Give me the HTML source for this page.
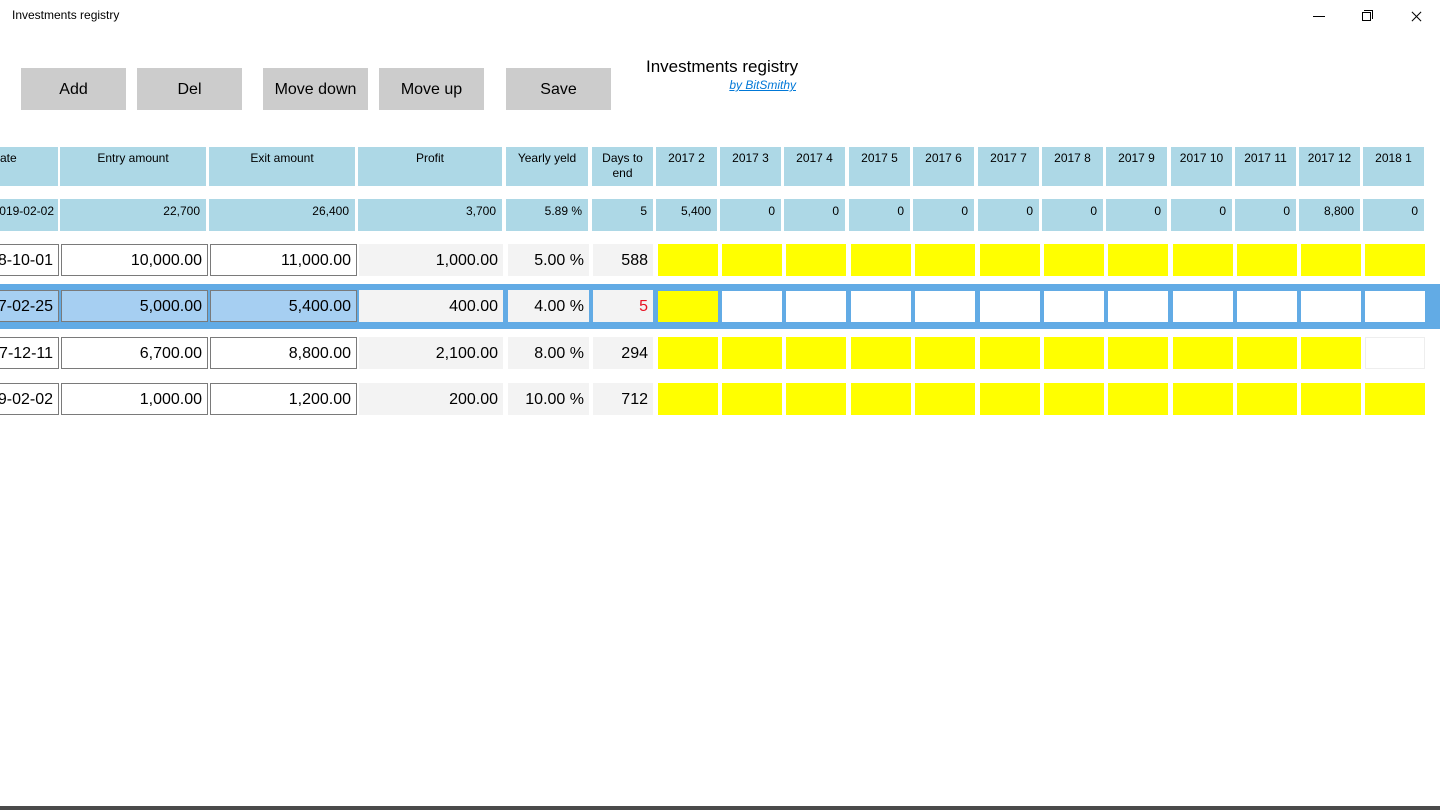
<!DOCTYPE html>
<html><head><meta charset="utf-8"><style>
body{margin:0;width:1440px;height:810px;background:#fff;position:relative;overflow:hidden;font-family:"Segoe UI","Liberation Sans",sans-serif;color:#000}
div{position:absolute;box-sizing:border-box;white-space:nowrap}
.btn{background:#ccc;height:42px;top:68px;width:105px;font-size:16px;text-align:center;line-height:44px}
.h{background:#add8e6;top:147px;height:39px;font-size:12px;text-align:center;padding-top:4px;line-height:15px}
.s{background:#add8e6;top:199px;height:32px;font-size:12px;text-align:right;padding-right:6px;line-height:24px}
.c{height:32px;font-size:16px;text-align:right;padding-right:5px;line-height:31px}
.b{border:1px solid #7a7a7a;background:#fff}
.g{background:#f3f3f3;line-height:33px}
.y{background:#ffff00}
.w{background:#fff}
</style></head><body>
<div style="left:12px;top:8px;font-size:12px">Investments registry</div>
<div style="left:1313px;top:16px;width:12px;border-top:1px solid #000"></div>
<div style="left:1362px;top:12px;width:9px;height:9px;border:1px solid #000"></div>
<div style="left:1364px;top:10px;width:9px;height:9px;border-top:1px solid #000;border-right:1px solid #000"></div>
<div style="left:1410px;top:16px;width:13px;border-top:1px solid #000;transform:rotate(45deg)"></div>
<div style="left:1410px;top:16px;width:13px;border-top:1px solid #000;transform:rotate(-45deg)"></div>

<div class="btn" style="left:21px">Add</div>
<div class="btn" style="left:137px">Del</div>
<div class="btn" style="left:263px">Move down</div>
<div class="btn" style="left:379px">Move up</div>
<div class="btn" style="left:506px">Save</div>
<div style="left:646px;top:57px;font-size:17px">Investments registry</div>
<div style="left:700px;top:78px;width:96px;text-align:right;font-size:12px;font-style:italic;color:#0078d7;text-decoration:underline">by BitSmithy</div>

<div class="h" style="left:0;width:58px;text-align:left">ate</div>
<div class="h" style="left:60px;width:146px">Entry amount</div>
<div class="h" style="left:209px;width:146px">Exit amount</div>
<div class="h" style="left:358px;width:144px">Profit</div>
<div class="h" style="left:506px;width:82px">Yearly yeld</div>
<div class="h" style="left:592px;width:61px">Days to<br>end</div>
<div class="h" style="left:656px;width:61px">2017 2</div>
<div class="h" style="left:720px;width:61px">2017 3</div>
<div class="h" style="left:784px;width:61px">2017 4</div>
<div class="h" style="left:849px;width:61px">2017 5</div>
<div class="h" style="left:913px;width:61px">2017 6</div>
<div class="h" style="left:978px;width:61px">2017 7</div>
<div class="h" style="left:1042px;width:61px">2017 8</div>
<div class="h" style="left:1106px;width:61px">2017 9</div>
<div class="h" style="left:1171px;width:61px">2017 10</div>
<div class="h" style="left:1235px;width:61px">2017 11</div>
<div class="h" style="left:1299px;width:61px">2017 12</div>
<div class="h" style="left:1363px;width:61px">2018 1</div>

<div class="s" style="left:-40px;width:98px;padding-right:4px">2019-02-02</div>
<div class="s" style="left:60px;width:146px">22,700</div>
<div class="s" style="left:209px;width:146px">26,400</div>
<div class="s" style="left:358px;width:144px">3,700</div>
<div class="s" style="left:506px;width:82px">5.89 %</div>
<div class="s" style="left:592px;width:61px">5</div>
<div class="s" style="left:656px;width:61px">5,400</div>
<div class="s" style="left:720px;width:61px">0</div>
<div class="s" style="left:784px;width:61px">0</div>
<div class="s" style="left:849px;width:61px">0</div>
<div class="s" style="left:913px;width:61px">0</div>
<div class="s" style="left:978px;width:61px">0</div>
<div class="s" style="left:1042px;width:61px">0</div>
<div class="s" style="left:1106px;width:61px">0</div>
<div class="s" style="left:1171px;width:61px">0</div>
<div class="s" style="left:1235px;width:61px">0</div>
<div class="s" style="left:1299px;width:61px">8,800</div>
<div class="s" style="left:1363px;width:61px">0</div>

<!-- row 1 -->
<div class="c b" style="top:244px;left:-40px;width:99px">2018-10-01</div>
<div class="c b" style="top:244px;left:61px;width:147px">10,000.00</div>
<div class="c b" style="top:244px;left:210px;width:147px">11,000.00</div>
<div class="c g" style="top:244px;left:359px;width:144px">1,000.00</div>
<div class="c g" style="top:244px;left:508px;width:81px">5.00 %</div>
<div class="c g" style="top:244px;left:593px;width:60px">588</div>
<div class="c y" style="top:244px;left:658px;width:60px"></div><div class="c y" style="top:244px;left:722px;width:60px"></div><div class="c y" style="top:244px;left:786px;width:60px"></div><div class="c y" style="top:244px;left:851px;width:60px"></div><div class="c y" style="top:244px;left:915px;width:60px"></div><div class="c y" style="top:244px;left:980px;width:60px"></div><div class="c y" style="top:244px;left:1044px;width:60px"></div><div class="c y" style="top:244px;left:1108px;width:60px"></div><div class="c y" style="top:244px;left:1173px;width:60px"></div><div class="c y" style="top:244px;left:1237px;width:60px"></div><div class="c y" style="top:244px;left:1301px;width:60px"></div><div class="c y" style="top:244px;left:1365px;width:60px"></div>

<!-- row 2 selected -->
<div style="top:284px;left:0;width:1440px;height:45px;background:#62abe5"></div>
<div class="c b" style="top:290px;left:-40px;width:99px;background:#a6cff2">2017-02-25</div>
<div class="c b" style="top:290px;left:61px;width:147px;background:#a6cff2">5,000.00</div>
<div class="c b" style="top:290px;left:210px;width:147px;background:#a6cff2">5,400.00</div>
<div class="c g" style="top:290px;left:359px;width:144px">400.00</div>
<div class="c g" style="top:290px;left:508px;width:81px">4.00 %</div>
<div class="c g" style="top:290px;left:593px;width:60px;color:#e81123">5</div>
<div class="c y" style="top:291px;left:658px;width:60px;height:31px"></div><div class="c w" style="top:291px;left:722px;width:60px;height:31px"></div><div class="c w" style="top:291px;left:786px;width:60px;height:31px"></div><div class="c w" style="top:291px;left:851px;width:60px;height:31px"></div><div class="c w" style="top:291px;left:915px;width:60px;height:31px"></div><div class="c w" style="top:291px;left:980px;width:60px;height:31px"></div><div class="c w" style="top:291px;left:1044px;width:60px;height:31px"></div><div class="c w" style="top:291px;left:1108px;width:60px;height:31px"></div><div class="c w" style="top:291px;left:1173px;width:60px;height:31px"></div><div class="c w" style="top:291px;left:1237px;width:60px;height:31px"></div><div class="c w" style="top:291px;left:1301px;width:60px;height:31px"></div><div class="c w" style="top:291px;left:1365px;width:60px;height:31px"></div>

<!-- row 3 -->
<div class="c b" style="top:337px;left:-40px;width:99px">2017-12-11</div>
<div class="c b" style="top:337px;left:61px;width:147px">6,700.00</div>
<div class="c b" style="top:337px;left:210px;width:147px">8,800.00</div>
<div class="c g" style="top:337px;left:359px;width:144px">2,100.00</div>
<div class="c g" style="top:337px;left:508px;width:81px">8.00 %</div>
<div class="c g" style="top:337px;left:593px;width:60px">294</div>
<div class="c y" style="top:337px;left:658px;width:60px"></div><div class="c y" style="top:337px;left:722px;width:60px"></div><div class="c y" style="top:337px;left:786px;width:60px"></div><div class="c y" style="top:337px;left:851px;width:60px"></div><div class="c y" style="top:337px;left:915px;width:60px"></div><div class="c y" style="top:337px;left:980px;width:60px"></div><div class="c y" style="top:337px;left:1044px;width:60px"></div><div class="c y" style="top:337px;left:1108px;width:60px"></div><div class="c y" style="top:337px;left:1173px;width:60px"></div><div class="c y" style="top:337px;left:1237px;width:60px"></div><div class="c y" style="top:337px;left:1301px;width:60px"></div><div class="c" style="top:337px;left:1365px;width:60px;border:1px solid #eee"></div>

<!-- row 4 -->
<div class="c b" style="top:383px;left:-40px;width:99px">2019-02-02</div>
<div class="c b" style="top:383px;left:61px;width:147px">1,000.00</div>
<div class="c b" style="top:383px;left:210px;width:147px">1,200.00</div>
<div class="c g" style="top:383px;left:359px;width:144px">200.00</div>
<div class="c g" style="top:383px;left:508px;width:81px">10.00 %</div>
<div class="c g" style="top:383px;left:593px;width:60px">712</div>
<div class="c y" style="top:383px;left:658px;width:60px"></div><div class="c y" style="top:383px;left:722px;width:60px"></div><div class="c y" style="top:383px;left:786px;width:60px"></div><div class="c y" style="top:383px;left:851px;width:60px"></div><div class="c y" style="top:383px;left:915px;width:60px"></div><div class="c y" style="top:383px;left:980px;width:60px"></div><div class="c y" style="top:383px;left:1044px;width:60px"></div><div class="c y" style="top:383px;left:1108px;width:60px"></div><div class="c y" style="top:383px;left:1173px;width:60px"></div><div class="c y" style="top:383px;left:1237px;width:60px"></div><div class="c y" style="top:383px;left:1301px;width:60px"></div><div class="c y" style="top:383px;left:1365px;width:60px"></div>

<div style="top:806px;left:0;width:1440px;height:4px;background:#4a4a4a"></div>
</body></html>
